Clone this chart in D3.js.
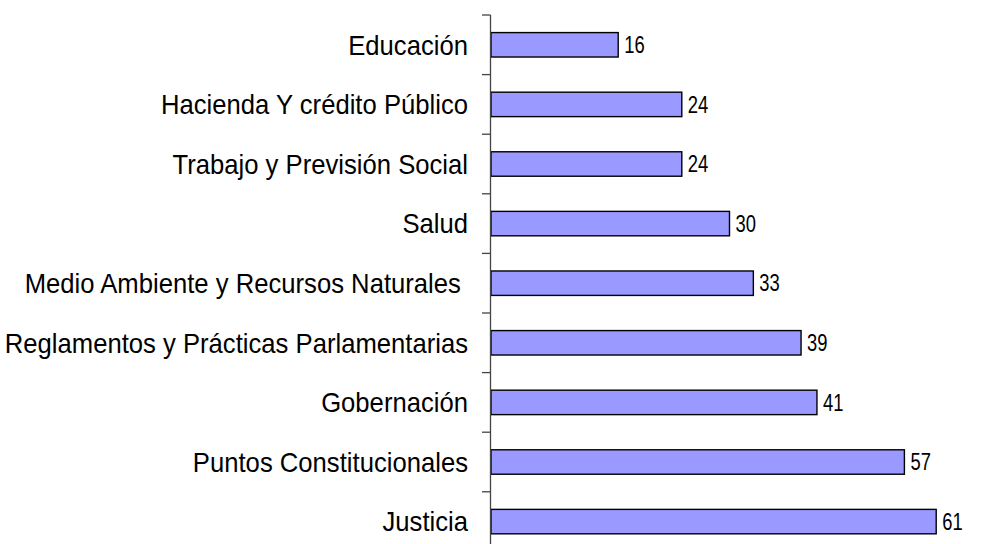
<!DOCTYPE html>
<html>
<head>
<meta charset="utf-8">
<script src="https://cdn.jsdelivr.net/npm/d3@7"></script>
<style>
  body { margin: 0; background: #fff; }
  text { font-family: "Liberation Sans", Arial, sans-serif; }
</style>
</head>
<body>
<script>
const width = 1005;
const height = 544;

// categories, top to bottom
const categories = [
  "Educación",
  "Hacienda Y crédito Público",
  "Trabajo y Previsión Social",
  "Salud",
  "Medio Ambiente y Recursos Naturales ",
  "Reglamentos y Prácticas Parlamentarias",
  "Gobernación",
  "Puntos Constitucionales",
  "Justicia"
];
// numbers printed next to the bars
const values = [16, 24, 24, 30, 33, 39, 41, 57, 61];
// bar lengths as drawn in the picture (last two bars are shorter than their labels)
const barValues = [16, 24, 24, 30, 33, 39, 41, 52, 56];

const axisX = 491;

const svg = d3.select("body")
  .append("svg")
  .attr("width", width)
  .attr("height", height);

const x = d3.scaleLinear()
  .domain([0, 60])
  .range([axisX, axisX + 477]);

const y = d3.scaleBand()
  .domain(categories)
  .range([15, 15 + 9 * 59.6])
  .paddingInner(0.59)
  .paddingOuter(0.295);

const data = categories.map((c, i) => ({ name: c, value: values[i], bar: barValues[i] }));

// bars
svg.append("g")
  .selectAll("rect")
  .data(data)
  .enter()
  .append("rect")
  .attr("x", x(0))
  .attr("y", d => y(d.name))
  .attr("width", d => x(d.bar) - x(0))
  .attr("height", y.bandwidth())
  .attr("fill", "#9999ff")
  .attr("stroke", "#000")
  .attr("stroke-width", 1.4);

// value labels
svg.append("g")
  .selectAll("text")
  .data(data)
  .enter()
  .append("text")
  .attr("transform", d => `translate(${x(d.bar) + 6},${y(d.name) + y.bandwidth() / 2}) scale(0.8,1)`)
  .attr("dy", "0.36em")
  .style("font-size", "23px")
  .attr("fill", "#000")
  .text(d => d.value);

// category axis: line + ticks between categories
const step = y.step();
const tickYs = d3.range(categories.length).map(i => y(categories[i]) - y.paddingInner() * step / 2);

const axis = svg.append("g");
axis.append("line")
  .attr("x1", axisX - 0.5).attr("x2", axisX - 0.5)
  .attr("y1", tickYs[0]).attr("y2", height + 10)
  .attr("stroke", "#444")
  .attr("stroke-width", 1.3);

axis.selectAll(".tick")
  .data(tickYs)
  .enter()
  .append("line")
  .attr("class", "tick")
  .attr("x1", axisX - 9).attr("x2", axisX - 0.5)
  .attr("y1", d => d).attr("y2", d => d)
  .attr("stroke", "#444")
  .attr("stroke-width", 1.3);

// category labels
svg.append("g")
  .selectAll("text")
  .data(data)
  .enter()
  .append("text")
  .attr("transform", d => `translate(468,${y(d.name) + y.bandwidth() / 2}) scale(0.95,1)`)
  .attr("dy", "0.36em")
  .attr("text-anchor", "end")
  .style("font-size", "27px")
  .style("white-space", "pre")
  .attr("fill", "#000")
  .text(d => d.name);
</script>
</body>
</html>
